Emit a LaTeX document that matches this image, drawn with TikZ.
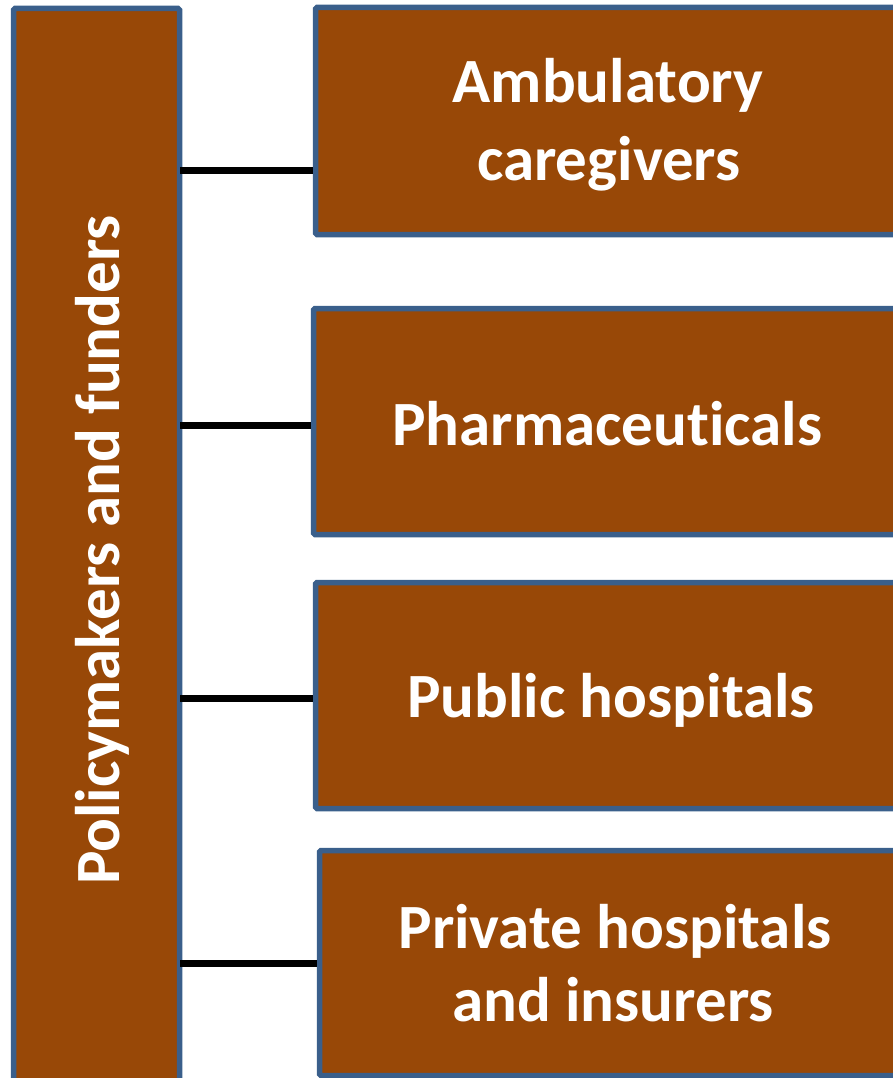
\documentclass[tikz,border=0pt]{standalone}
\usepackage{fontspec}
\setmainfont[Ligatures=NoCommon]{Carlito}
\definecolor{boxfill}{HTML}{984807}
\definecolor{boxline}{RGB}{58,95,139}
\begin{document}
\begin{tikzpicture}[x=1pt,y=-1pt,
  orgbox/.style={draw=boxline,fill=boxfill,line width=5.5pt,rounded corners=1.5pt},
  boxtext/.style={text=white,font=\bfseries\fontsize{63}{76}\selectfont,inner sep=0pt,anchor=base},
  link/.style={draw=black,line width=7pt}]
\useasboundingbox (0,0) rectangle (893,1078);
\clip (0,0) rectangle (893,1078);

% left column: policymakers and funders
\draw[orgbox] (13.5,8.5) rectangle (179.5,1110);
\coordinate (pfE) at (180,0);
\node[boxtext,rotate=90] (pf) at (119,550) {Policymakers and funders};

% right column boxes
\draw[orgbox] (315.5,7.5) rectangle (1000,234.5);
\draw[orgbox] (313.5,308.5) rectangle (1000,534.5);
\draw[orgbox] (315.5,582.5) rectangle (1000,808.5);
\draw[orgbox] (319.5,850.5) rectangle (1000,1075.5);

% box labels, one node per printed line
\node[boxtext] (amb1) at (608,103) {Ambulatory};
\node[boxtext] (amb2) at (609,181) {caregivers};
\node[boxtext] (pha) at (607.5,445) {Pharmaceuticals};
\node[boxtext] (pub) at (611,717) {Public hospitals};
\node[boxtext] (pri1) at (615,948) {Private hospitals};
\node[boxtext] (pri2) at (613,1021) {and insurers};

% connector end points on the box edges
\coordinate (a1) at (313,171);
\coordinate (a2) at (311,425);
\coordinate (a3) at (313,698);
\coordinate (a4) at (317,963);

\draw[link] (pfE |- a1) -- (a1);
\draw[link] (pfE |- a2) -- (a2);
\draw[link] (pfE |- a3) -- (a3);
\draw[link] (pfE |- a4) -- (a4);
\end{tikzpicture}
\end{document}
